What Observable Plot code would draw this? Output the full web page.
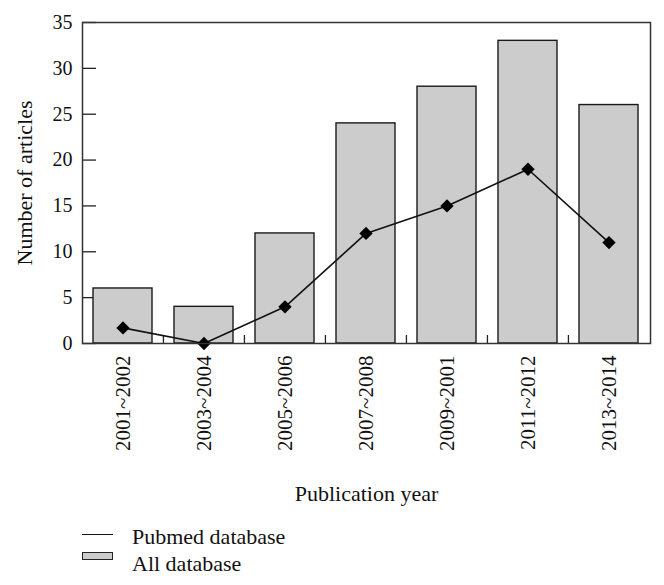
<!DOCTYPE html>
<html>
<head>
<meta charset="utf-8">
<script src="https://cdn.jsdelivr.net/npm/d3@7"></script>
<script src="https://cdn.jsdelivr.net/npm/@observablehq/plot@0.6"></script>
<style>
  html, body { margin: 0; padding: 0; background: #fff; }
  #wrap { position: relative; width: 664px; height: 585px; font-family: "Liberation Serif", serif; color: #111; }
  .leg { position: absolute; font-size: 22px; line-height: 1; white-space: nowrap; }
</style>
</head>
<body>
<div id="wrap"></div>
<script>
const categories = ["2001~2002", "2003~2004", "2005~2006", "2007~2008", "2009~2001", "2011~2012", "2013~2014"];
const allDatabase = [6, 4, 12, 24, 28, 33, 26];
const pubmedDatabase = [1.7, 0, 4, 12, 15, 19, 11];
const yTicks = [0, 5, 10, 15, 20, 25, 30, 35];
const seriesNames = ["Pubmed database", "All database"];

const W = 664, H = 520;
const mL = 82, mR = 14, mT = 22, mB = 177;
const plotW = W - mL - mR, plotH = H - mT - mB;
const step = plotW / categories.length;

const rows = categories.map((c, i) => ({cat: c, all: allDatabase[i], pub: pubmedDatabase[i]}));

const chart = Plot.plot({
  width: W, height: H,
  marginLeft: mL, marginRight: mR, marginTop: mT, marginBottom: mB,
  style: {fontFamily: "Liberation Serif, serif", fontSize: "21px", color: "#111", background: "#fff"},
  x: {type: "band", domain: categories, paddingInner: 0.27, paddingOuter: 0.135},
  y: {domain: [0, 35]},
  marks: [
    // inward ticks (drawn under the bars)
    Plot.ruleY(yTicks, {y: d => d, stroke: "#222", strokeWidth: 1.3, insetRight: plotW - 14}),
    Plot.ruleX(categories.slice(1), {x: d => d, dx: -step / 2, stroke: "#222", strokeWidth: 1.3, insetTop: plotH - 8}),
    Plot.barY(rows, {x: "cat", y: "all", fill: "#cccccc", stroke: "#1a1a1a", strokeWidth: 1.4}),
    Plot.line(rows, {x: "cat", y: "pub", stroke: "#111", strokeWidth: 1.6}),
    Plot.dot(rows, {x: "cat", y: "pub", symbol: "diamond2", r: 6, fill: "#000", stroke: "none"}),
    Plot.axisY({ticks: yTicks, tickSize: 0, tickPadding: 10, fontSize: 20, label: null}),
    Plot.axisX({tickSize: 0, tickPadding: 12, tickRotate: -90, label: null}),
    Plot.axisY({ticks: [], tickSize: 0, label: "Number of articles", labelAnchor: "center", labelOffset: 66, labelArrow: "none", fontSize: 22}),
    Plot.axisX({ticks: [], tickSize: 0, label: "Publication year", labelAnchor: "center", labelOffset: 157, labelArrow: "none", fontSize: 22}),
    Plot.frame({stroke: "#333", strokeWidth: 1.5})
  ]
});

const wrap = document.getElementById("wrap");
wrap.appendChild(chart);

// Legend below the chart
const leg = document.createElement("div");
leg.style.position = "absolute";
leg.style.left = "0px";
leg.style.top = H + "px";
leg.style.width = "664px";
leg.style.height = (585 - H) + "px";
leg.innerHTML = `
  <div style="position:absolute; left:82px; top:14px; width:31px; height:0; border-top:1.6px solid #111;"></div>
  <div class="leg" style="left:132px; top:6px;">${seriesNames[0]}</div>
  <div style="position:absolute; left:82px; top:32px; width:29px; height:6px; background:#cccccc; border:1.2px solid #222;"></div>
  <div class="leg" style="left:132px; top:33px;">${seriesNames[1]}</div>
`;
wrap.appendChild(leg);
</script>
</body>
</html>
